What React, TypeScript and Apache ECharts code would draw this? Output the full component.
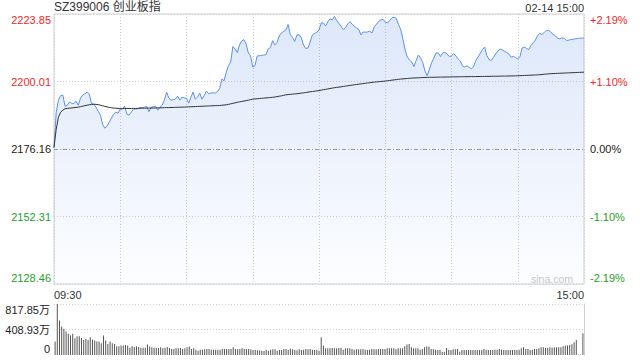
import React, { useEffect, useRef } from "react";
import * as echarts from "echarts";

const FONT = "'Liberation Sans', Arial, 'Noto Sans CJK SC', sans-serif";

const TITLE = "SZ399006 创业板指";
const STAMP = "02-14 15:00";
const PRE_CLOSE = 2176.16;
const Y_MIN = 2128.46;
const Y_MAX = 2223.85;
const VOL_MAX = 817.85;

const priceTickLabels = ["2128.46", "2152.31", "2176.16", "2200.01", "2223.85"];
const pctTickLabels = ["-2.19%", "-1.10%", "0.00%", "+1.10%", "+2.19%"];
const volTickLabels = ["0", "408.93万", "817.85万"];

// minute timeline 09:30-11:30, 13:01-15:00
const pad = (n: number) => (n < 10 ? "0" + n : "" + n);
const times: string[] = [];
for (let m = 9 * 60 + 30; m <= 11 * 60 + 30; m++) times.push(pad(Math.floor(m / 60)) + ":" + pad(m % 60));
for (let m = 13 * 60 + 1; m <= 15 * 60; m++) times.push(pad(Math.floor(m / 60)) + ":" + pad(m % 60));

const price = [
  2176.5, 2189.16, 2193.42, 2195.01, 2195.19, 2191.29, 2191.64, 2192.71, 2192.35, 2192.18,
  2193.06, 2191.64, 2194.12, 2195.19, 2195.72, 2196.25, 2195.54, 2192.18, 2192.0, 2190.93,
  2189.52, 2188.1, 2184.91, 2183.49, 2184.2, 2185.62, 2187.04, 2188.45, 2189.16, 2188.81,
  2190.23, 2190.23, 2191.29, 2188.45, 2188.1, 2189.16, 2190.23, 2190.23, 2190.4, 2190.83,
  2190.76, 2190.93, 2191.18, 2189.34, 2190.93, 2191.11, 2191.29, 2189.87, 2190.93, 2191.64,
  2193.42, 2196.25, 2194.12, 2193.42, 2193.59, 2193.77, 2194.83, 2193.42, 2194.48, 2194.12,
  2194.12, 2192.35, 2194.48, 2196.25, 2193.77, 2194.48, 2195.9, 2193.77, 2195.01, 2196.61,
  2195.72, 2195.9, 2196.0, 2195.9, 2196.43, 2197.49, 2200.86, 2200.26, 2203.34, 2205.64,
  2206.78, 2212.38, 2211.49, 2210.25, 2212.91, 2214.33, 2214.79, 2213.26, 2210.07, 2209.12,
  2205.11, 2205.57, 2209.01, 2209.12, 2209.19, 2209.36, 2209.47, 2211.49, 2212.02, 2214.43,
  2212.91, 2213.79, 2216.1, 2217.16, 2217.69, 2218.22, 2220.17, 2216.63, 2215.57, 2214.15,
  2216.45, 2216.56, 2215.39, 2212.91, 2211.67, 2211.84, 2213.97, 2216.45, 2216.98, 2217.34,
  2218.22, 2220.7, 2220.7, 2219.64, 2221.06, 2222.12, 2221.77, 2223.01, 2221.59, 2220.53,
  2219.46, 2218.4, 2218.93, 2220.35, 2221.13, 2220.24, 2219.46, 2218.93, 2218.4, 2216.45,
  2217.51, 2217.41, 2217.51, 2217.76, 2217.16, 2219.29, 2220.24, 2221.24, 2221.77, 2221.94,
  2220.95, 2220.7, 2221.59, 2222.48, 2222.72, 2222.3, 2220.17, 2218.4, 2215.03, 2211.14,
  2208.65, 2207.59, 2206.88, 2205.29, 2207.41, 2209.36, 2208.3, 2206.71, 2203.69, 2202.0,
  2204.4, 2206.71, 2208.3, 2210.07, 2210.07, 2208.83, 2210.07, 2210.25, 2209.72, 2208.83,
  2209.01, 2209.9, 2209.01, 2207.95, 2207.24, 2205.47, 2205.11, 2205.54, 2205.0, 2204.47,
  2205.29, 2207.41, 2208.65, 2209.9, 2211.31, 2212.2, 2209.19, 2207.77, 2207.41, 2208.55,
  2209.72, 2210.78, 2211.49, 2211.14, 2210.67, 2210.25, 2209.72, 2208.55, 2208.9, 2208.48,
  2207.95, 2208.83, 2211.84, 2212.2, 2211.67, 2211.31, 2212.73, 2213.69, 2214.68, 2216.27,
  2216.98, 2216.63, 2217.34, 2218.05, 2218.05, 2217.41, 2216.7, 2216.2, 2215.28, 2215.1,
  2215.39, 2215.28, 2214.5, 2214.61, 2214.82, 2214.96, 2215.04, 2215.21, 2215.28, 2215.32, 2215.39,
];

const avgPrice = [
  2176.76, 2183.14, 2187.39, 2189.16, 2189.87, 2190.4, 2190.51, 2190.58, 2190.65, 2190.76,
  2190.86, 2190.93, 2191.11, 2191.29, 2191.47, 2191.64, 2191.79, 2191.89, 2191.96, 2191.93,
  2191.82, 2191.64, 2191.43, 2191.22, 2191.04, 2190.86, 2190.72, 2190.62, 2190.54, 2190.51,
  2190.47, 2190.47, 2190.47, 2190.47, 2190.47, 2190.47, 2190.51, 2190.51, 2190.51, 2190.54,
  2190.54, 2190.58, 2190.58, 2190.62, 2190.62, 2190.65, 2190.65, 2190.69, 2190.69, 2190.72,
  2190.76, 2190.79, 2190.79, 2190.83, 2190.83, 2190.86, 2190.9, 2190.93, 2190.93, 2190.97,
  2191.01, 2191.04, 2191.08, 2191.11, 2191.15, 2191.18, 2191.22, 2191.25, 2191.29, 2191.32,
  2191.36, 2191.4, 2191.43, 2191.47, 2191.5, 2191.54, 2191.61, 2191.68, 2191.79, 2191.93,
  2192.1, 2192.28, 2192.46, 2192.64, 2192.81, 2192.95, 2193.1, 2193.24, 2193.42, 2193.59,
  2193.77, 2193.84, 2193.91, 2193.98, 2194.05, 2194.12, 2194.2, 2194.27, 2194.34, 2194.41,
  2194.51, 2194.66, 2194.8, 2194.94, 2195.12, 2195.29, 2195.4, 2195.47, 2195.54, 2195.61,
  2195.68, 2195.79, 2195.9, 2196.0, 2196.11, 2196.25, 2196.36, 2196.46, 2196.57, 2196.68,
  2196.78, 2196.96, 2197.1, 2197.24, 2197.38, 2197.53, 2197.67, 2197.81, 2197.92, 2198.02,
  2198.13, 2198.24, 2198.38, 2198.48, 2198.63, 2198.73, 2198.84, 2198.94, 2199.05, 2199.16,
  2199.26, 2199.37, 2199.48, 2199.58, 2199.69, 2199.79, 2199.87, 2199.94, 2200.01, 2200.08,
  2200.15, 2200.26, 2200.36, 2200.47, 2200.57, 2200.68, 2200.79, 2200.86, 2200.93, 2201.0,
  2201.07, 2201.14, 2201.21, 2201.25, 2201.28, 2201.32, 2201.35, 2201.39, 2201.43, 2201.46,
  2201.46, 2201.5, 2201.5, 2201.53, 2201.53, 2201.57, 2201.57, 2201.57, 2201.6, 2201.6,
  2201.64, 2201.64, 2201.64, 2201.67, 2201.67, 2201.67, 2201.71, 2201.71, 2201.71, 2201.74,
  2201.74, 2201.74, 2201.78, 2201.78, 2201.78, 2201.81, 2201.81, 2201.81, 2201.85, 2201.85,
  2201.85, 2201.89, 2201.89, 2201.92, 2201.92, 2201.92, 2201.96, 2201.96, 2201.99, 2201.99,
  2202.03, 2202.06, 2202.1, 2202.13, 2202.17, 2202.2, 2202.24, 2202.28, 2202.31, 2202.35,
  2202.42, 2202.49, 2202.56, 2202.63, 2202.7, 2202.77, 2202.81, 2202.84, 2202.88, 2202.91,
  2202.95, 2202.98, 2203.02, 2203.06, 2203.09, 2203.13, 2203.16, 2203.2, 2203.23, 2203.27, 2203.3,
];

// volume in 万
const volume = [
  215, 817.85, 554, 457, 420, 377, 339, 312, 339, 269,
  301, 301, 274, 242, 258, 242, 285, 247, 231, 215,
  215, 188, 312, 231, 178, 215, 188, 178, 140, 140,
  151, 151, 161, 151, 118, 140, 129, 140, 129, 118,
  118, 118, 167, 135, 124, 118, 118, 113, 124, 108,
  118, 129, 113, 97, 97, 108, 108, 113, 97, 108,
  124, 135, 97, 108, 86, 70, 86, 86, 91, 97,
  97, 86, 86, 86, 86, 86, 97, 97, 97, 97,
  97, 124, 97, 91, 97, 108, 97, 97, 97, 91,
  81, 86, 75, 75, 70, 65, 86, 70, 86, 91,
  91, 70, 81, 81, 97, 97, 81, 102, 91, 81,
  75, 91, 81, 86, 97, 91, 97, 86, 81, 86,
  70, 285, 151, 108, 108, 108, 113, 108, 108, 113,
  118, 86, 108, 108, 108, 97, 86, 91, 91, 91,
  97, 86, 81, 86, 97, 91, 91, 97, 97, 97,
  97, 108, 108, 108, 108, 91, 108, 108, 108, 140,
  167, 178, 124, 108, 108, 108, 86, 97, 124, 135,
  135, 97, 91, 86, 81, 86, 54, 54, 113, 86,
  81, 91, 91, 97, 54, 81, 81, 81, 81, 81,
  81, 81, 81, 81, 81, 97, 86, 81, 81, 81,
  86, 86, 97, 86, 81, 81, 81, 81, 81, 81,
  81, 86, 108, 124, 97, 97, 81, 86, 97, 97,
  108, 124, 124, 113, 118, 124, 118, 124, 124, 124,
  124, 140, 151, 151, 161, 172, 204, 242, 4, 4,
  350,
];

const RED = "#f02828";
const GREEN = "#22a22a";
const DARK = "#222";
const GRIDC = "#cfcfcf";

const richFor = (color: string) => ({
  lo: { color, fontSize: 11, fontFamily: FONT, padding: [0, 0, 12, 0] },
  mid: { color, fontSize: 11, fontFamily: FONT },
  hi: { color, fontSize: 11, fontFamily: FONT, padding: [12, 0, 0, 0] },
});

// wraps a tick label so the lowest sits above its line and the highest below it
const wrap = (labels: string[], i: number) => {
  const key = i === 0 ? "lo" : i === labels.length - 1 ? "hi" : "mid";
  return "{" + key + "|" + labels[i] + "}";
};

const labelColor = (v: any) => {
  const n = parseFloat(v);
  if (n > PRE_CLOSE + 0.02) return RED;
  if (n < PRE_CLOSE - 0.02) return GREEN;
  return DARK;
};

export default function App() {
  const ref = useRef<HTMLDivElement>(null);
  useEffect(() => {
    if (!ref.current) return;
    const chart = echarts.init(ref.current, undefined, { renderer: "svg" });
    const richColored = {
      rlo: { color: RED, fontSize: 11, fontFamily: FONT, padding: [0, 0, 12, 0] },
      rmid: { color: RED, fontSize: 11, fontFamily: FONT },
      rhi: { color: RED, fontSize: 11, fontFamily: FONT, padding: [12, 0, 0, 0] },
      glo: { color: GREEN, fontSize: 11, fontFamily: FONT, padding: [0, 0, 12, 0] },
      gmid: { color: GREEN, fontSize: 11, fontFamily: FONT },
      ghi: { color: GREEN, fontSize: 11, fontFamily: FONT, padding: [12, 0, 0, 0] },
      dlo: { color: DARK, fontSize: 11, fontFamily: FONT, padding: [0, 0, 12, 0] },
      dmid: { color: DARK, fontSize: 11, fontFamily: FONT },
      dhi: { color: DARK, fontSize: 11, fontFamily: FONT, padding: [12, 0, 0, 0] },
    };
    const priceFmt = (labels: string[]) => (v: number, i: number) => {
      const c = labelColor(v);
      const p = c === RED ? "r" : c === GREEN ? "g" : "d";
      const key = i === 0 ? "lo" : i === labels.length - 1 ? "hi" : "mid";
      return "{" + p + key + "|" + labels[i] + "}";
    };
    const option: any = {
      animation: false,
      backgroundColor: "#fff",
      textStyle: { fontFamily: FONT },
      title: [
        {
          text: TITLE,
          left: 54,
          top: 1,
          padding: 0,
          textStyle: { fontSize: 12, fontWeight: "normal", color: "#333", fontFamily: FONT },
        },
        {
          text: STAMP,
          right: 56,
          top: 2,
          padding: 0,
          textStyle: { fontSize: 11, fontWeight: "normal", color: "#333", fontFamily: FONT },
        },
      ],
      graphic: [
        {
          type: "text",
          right: 67,
          top: 273,
          style: { text: "sina.com", fill: "#c8c8c8", font: "10.5px 'Liberation Sans', Arial, sans-serif" },
          z: 10,
        },
      ],
      grid: [
        { left: 54, right: 56, top: 14, height: 270, show: true, borderColor: GRIDC, borderWidth: 1, backgroundColor: "transparent" },
        { left: 54, right: 56, top: 304, height: 51 },
      ],
      xAxis: [
        {
          type: "category",
          gridIndex: 0,
          data: times,
          boundaryGap: false,
          axisLine: { show: false },
          axisTick: { show: false },
          axisLabel: {
            interval: 239,
            margin: 5,
            fontSize: 11,
            color: "#333",
            fontFamily: FONT,
            alignMinLabel: "left",
            alignMaxLabel: "right",
          },
          splitLine: { show: true, interval: 29, lineStyle: { color: GRIDC, type: [1, 2] } },
        },
        {
          type: "category",
          gridIndex: 1,
          data: times,
          boundaryGap: true,
          axisLine: { show: false },
          axisTick: { show: false },
          axisLabel: { show: false },
          splitLine: { show: false },
        },
      ],
      yAxis: [
        {
          type: "value",
          gridIndex: 0,
          position: "left",
          min: Y_MIN,
          max: Y_MAX,
          interval: (Y_MAX - Y_MIN) / 4,
          axisLine: { show: false },
          axisTick: { show: false },
          axisLabel: {
            formatter: priceFmt(priceTickLabels),
            rich: richColored,
            fontSize: 11,
            margin: 3,
            fontFamily: FONT,
          },
          splitLine: { show: true, lineStyle: { color: GRIDC, type: [1, 2] } },
        },
        {
          type: "value",
          gridIndex: 0,
          position: "right",
          min: Y_MIN,
          max: Y_MAX,
          interval: (Y_MAX - Y_MIN) / 4,
          axisLine: { show: false },
          axisTick: { show: false },
          axisLabel: {
            formatter: priceFmt(pctTickLabels),
            rich: richColored,
            fontSize: 11,
            margin: 6,
            fontFamily: FONT,
          },
          splitLine: { show: false },
        },
        {
          type: "value",
          gridIndex: 1,
          position: "left",
          min: 0,
          max: VOL_MAX,
          interval: VOL_MAX / 2,
          axisLine: { show: false },
          axisTick: { show: false },
          axisLabel: {
            formatter: (v: number, i: number) => wrap(volTickLabels, i),
            rich: richFor("#222"),
            fontSize: 11,
            margin: 4,
            fontFamily: FONT,
          },
          splitLine: { show: true, lineStyle: { color: ["rgba(0,0,0,0)", GRIDC, GRIDC], type: [1, 2] } },
        },
        {
          type: "value",
          gridIndex: 1,
          position: "right",
          min: 0,
          max: VOL_MAX,
          axisLine: { show: true, lineStyle: { color: GRIDC } },
          axisTick: { show: false },
          axisLabel: { show: false },
          splitLine: { show: false },
        },
      ],
      series: [
        {
          name: "price",
          type: "line",
          xAxisIndex: 0,
          yAxisIndex: 0,
          data: price,
          symbol: "none",
          lineStyle: { color: "#5a91ee", width: 1 },
          areaStyle: {
            color: new echarts.graphic.LinearGradient(0, 0, 0, 1, [
              { offset: 0, color: "rgba(80,135,230,0.28)" },
              { offset: 1, color: "rgba(80,135,230,0.02)" },
            ]),
          },
          markLine: {
            silent: true,
            symbol: "none",
            label: { show: false },
            lineStyle: { color: "#999", type: [4, 2, 1, 2], width: 1 },
            data: [{ yAxis: PRE_CLOSE }],
          },
          z: 3,
        },
        {
          name: "avg",
          type: "line",
          xAxisIndex: 0,
          yAxisIndex: 0,
          data: avgPrice,
          symbol: "none",
          lineStyle: { color: "#333", width: 1 },
          z: 4,
        },
        {
          name: "volume",
          type: "bar",
          xAxisIndex: 1,
          yAxisIndex: 2,
          data: volume,
          barWidth: 1,
          itemStyle: { color: "#555" },
        },
      ],
    };
    chart.setOption(option);
    return () => chart.dispose();
  }, []);
  return (
    <div
      ref={ref}
      style={{ position: "fixed", left: 0, top: 0, width: 640, height: 360, background: "#fff" }}
    />
  );
}
